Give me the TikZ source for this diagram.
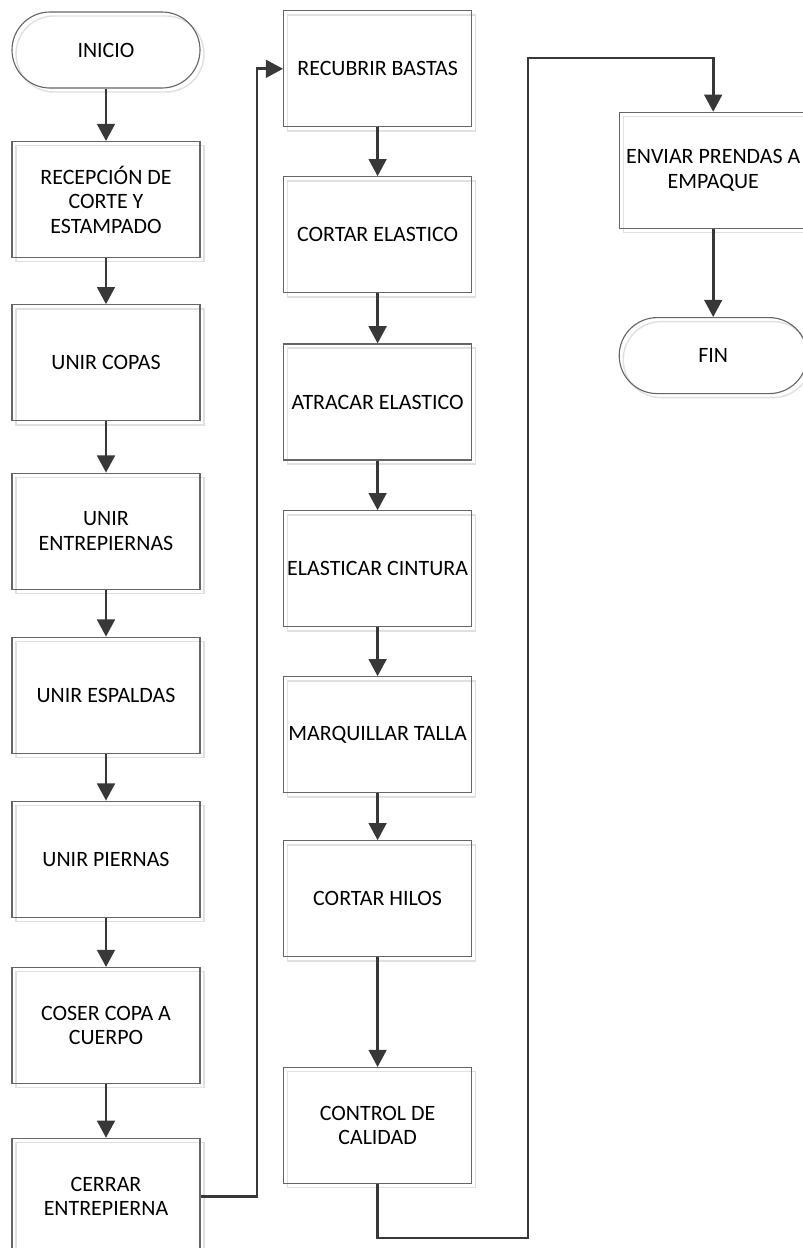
\documentclass[tikz,border=0pt]{standalone}
\usepackage{fontspec}
\setmainfont{Carlito}
\usetikzlibrary{arrows.meta,shadows}

\begin{document}
\begin{tikzpicture}[every node/.style={font=\fontsize{15.6}{17.4}\selectfont},
  proc/.style={rectangle,draw=black!60,line width=0.8pt,minimum width=4.7cm,minimum height=2.9cm,
    align=center,inner sep=0pt,
    general shadow={shadow xshift=0.1cm,shadow yshift=-0.1cm,draw=black!12,line width=1pt}},
  term/.style={proc,rounded corners=0.95cm,minimum height=1.9cm},
  flecha/.style={draw=black!78,line width=2.1pt,-{Triangle[length=0.43cm,width=0.44cm]}}]
  \useasboundingbox (0,0) rectangle (20.05,-31.2);
  % primera columna
  \node[term] (inicio) at (2.65,-1.25) {INICIO};
  \node[proc] (recep) at (2.65,-4.99) {RECEPCIÓN DE\\CORTE Y\\ESTAMPADO};
  \node[proc] (copas) at (2.65,-9.07) {UNIR COPAS};
  \node[proc] (entre) at (2.65,-13.28) {UNIR\\ENTREPIERNAS};
  \node[proc] (espal) at (2.65,-17.38) {UNIR ESPALDAS};
  \node[proc] (piern) at (2.65,-21.48) {UNIR PIERNAS};
  \node[proc] (coser) at (2.65,-25.64) {COSER COPA A\\CUERPO};
  \node[proc] (cerrar) at (2.65,-29.91) {CERRAR\\ENTREPIERNA};
  % segunda columna
  \node[proc] (recub) at (9.44,-1.72) {RECUBRIR BASTAS};
  \node[proc] (cortel) at (9.44,-5.87) {CORTAR ELASTICO};
  \node[proc] (atrac) at (9.44,-10.05) {ATRACAR ELASTICO};
  \node[proc] (elast) at (9.44,-14.22) {ELASTICAR CINTURA};
  \node[proc] (marq) at (9.44,-18.37) {MARQUILLAR TALLA};
  \node[proc] (hilos) at (9.44,-22.47) {CORTAR HILOS};
  \node[proc] (control) at (9.44,-28.14) {CONTROL DE\\CALIDAD};
  % tercera columna
  \node[proc] (enviar) at (17.83,-4.26) {ENVIAR PRENDAS A\\EMPAQUE};
  \node[term] (fin) at (17.83,-8.89) {FIN};
  \coordinate (izq) at (6.425,-29.91);
  \coordinate (bajo) at (13.2,-30.95);
  \coordinate (alto) at (13.2,-1.45);
  \draw[flecha] (inicio)--(recep); \draw[flecha] (recep)--(copas); \draw[flecha] (copas)--(entre);
  \draw[flecha] (entre)--(espal); \draw[flecha] (espal)--(piern); \draw[flecha] (piern)--(coser);
  \draw[flecha] (coser)--(cerrar);
  \draw[flecha] (cerrar.east)--(izq) |- (recub.west);
  \draw[flecha] (recub)--(cortel); \draw[flecha] (cortel)--(atrac); \draw[flecha] (atrac)--(elast);
  \draw[flecha] (elast)--(marq); \draw[flecha] (marq)--(hilos); \draw[flecha] (hilos)--(control);
  \draw[flecha] (control.south) |- (bajo)--(alto) -| (enviar.north);
  \draw[flecha] (enviar)--(fin);
\end{tikzpicture}
\end{document}
